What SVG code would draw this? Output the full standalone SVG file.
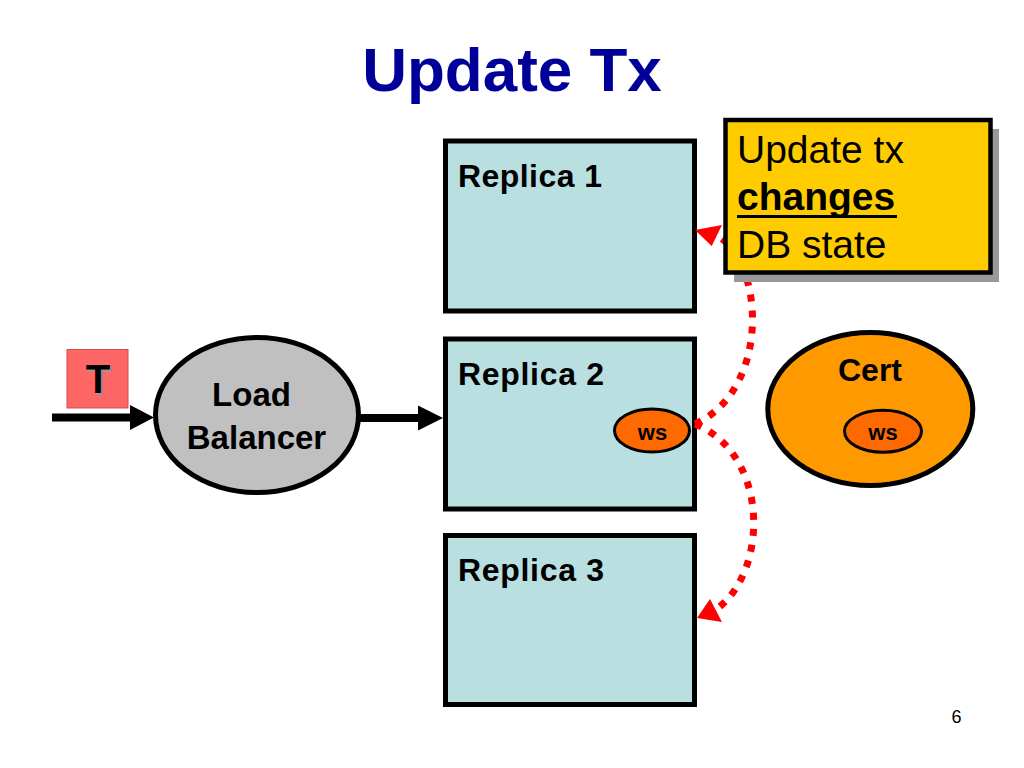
<svg xmlns="http://www.w3.org/2000/svg" width="1024" height="768" viewBox="0 0 1024 768">
<style>
.b{font-family:"Liberation Sans",Arial,sans-serif;font-weight:bold;fill:#000}
.n{font-family:"Liberation Sans",Arial,sans-serif;fill:#000}
.rep{fill:#B9DFE1;stroke:#000;stroke-width:5}
.ws{fill:#FF6A00;stroke:#000;stroke-width:3}
.blk{stroke:#000;stroke-width:8;fill:none}
.red{stroke:#FF0000;stroke-width:7;fill:none;stroke-dasharray:7 9}
</style>
<rect width="1024" height="768" fill="#fff"/>
<text class="b" x="512" y="91" font-size="62" text-anchor="middle" fill="#000099" style="fill:#000099">Update Tx</text>

<g id="replica1">
<rect class="rep" x="445.5" y="141" width="249" height="170"/>
<text class="b" x="458" y="187" font-size="32" textLength="144">Replica 1</text>
</g>
<g id="replica2">
<rect class="rep" x="445.5" y="339" width="249" height="170"/>
<text class="b" x="458" y="385" font-size="32" textLength="146">Replica 2</text>
<g id="ws1">
<ellipse class="ws" cx="652" cy="430.5" rx="37.5" ry="21.5"/>
<text class="b" x="652.5" y="440" font-size="22" text-anchor="middle">ws</text>
</g>
</g>
<g id="replica3">
<rect class="rep" x="445.5" y="535.5" width="249" height="169"/>
<text class="b" x="458" y="581" font-size="32" textLength="146">Replica 3</text>
</g>

<g id="loadbalancer">
<ellipse cx="257" cy="415" rx="101.5" ry="77.5" fill="#C0C0C0" stroke="#000" stroke-width="5"/>
<text class="b" x="251.5" y="406" font-size="33" text-anchor="middle">Load</text>
<text class="b" x="256.5" y="449" font-size="33" text-anchor="middle">Balancer</text>
</g>

<g id="tx">
<rect x="67" y="349.5" width="61" height="58.5" fill="#FF6666" stroke="#D05050" stroke-width="1"/>
<text class="b" x="99.5" y="394.5" font-size="40" text-anchor="middle" style="fill:#999">T</text>
<text class="b" x="98" y="393" font-size="40" text-anchor="middle">T</text>
</g>

<g id="cert">
<ellipse cx="870.3" cy="409" rx="102.5" ry="76.5" fill="#FF9900" stroke="#000" stroke-width="5"/>
<text class="b" x="870" y="381" font-size="32" text-anchor="middle">Cert</text>
<g id="ws2">
<ellipse class="ws" cx="883" cy="431.3" rx="38.5" ry="21"/>
<text class="b" x="883" y="440" font-size="22" text-anchor="middle">ws</text>
</g>
</g>

<g id="connectors">
<line class="blk" x1="52" y1="417.5" x2="132" y2="417.5"/>
<polygon points="130,405 154,417.5 130,430" fill="#000"/>
<line class="blk" x1="358" y1="418" x2="420" y2="418"/>
<polygon points="418,405.5 443,418 418,430.5" fill="#000"/>
<path class="red" d="M695,424 C770,390 765,265 718,236"/>
<polygon points="695,230 711.7,246 722,225" fill="#FF0000"/>
<path class="red" d="M695,424 C770,455 768,570 718,608"/>
<polygon points="697,618 710,599 722,622" fill="#FF0000"/>
</g>

<g id="note">
<rect x="734" y="129" width="265" height="153" fill="#999"/>
<rect x="725.5" y="120" width="265" height="152.5" fill="#FFCC00" stroke="#000" stroke-width="4.5"/>
<text class="n" x="737" y="163" font-size="39">Update tx</text>
<text class="b" x="737" y="210" font-size="39">changes</text>
<rect x="737" y="215" width="160" height="3" fill="#000"/>
<text class="n" x="737" y="258" font-size="39">DB state</text>
</g>

<text class="n" x="956.5" y="723" font-size="18" text-anchor="middle">6</text>
</svg>
